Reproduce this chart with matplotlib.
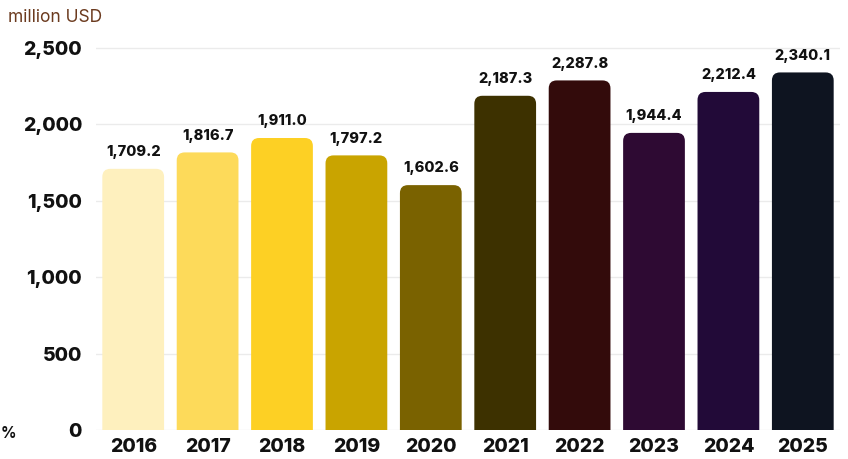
import matplotlib
matplotlib.use("Agg")
import matplotlib.pyplot as plt
from matplotlib.patches import FancyBboxPatch

years = ["2016", "2017", "2018", "2019", "2020", "2021", "2022", "2023", "2024", "2025"]
values = [1709.2, 1816.7, 1911.0, 1797.2, 1602.6, 2187.3, 2287.8, 1944.4, 2212.4, 2340.1]
colors = ["#FEF0BE", "#FDDA5A", "#FDD024", "#C9A400", "#7A6200",
          "#3D3100", "#330B0B", "#2E0A33", "#220A38", "#0E1420"]
yticks = [0, 500, 1000, 1500, 2000, 2500]
ytick_labels = ["0", "500", "1,000", "1,500", "2,000", "2,500"]

plt.rcParams['font.family'] = ['Inter', 'DejaVu Sans']

fig = plt.figure(figsize=(8.48, 4.59), dpi=100)
W, H = 848, 459
x0, x1 = 96, 840
y0, ytop = 430, 38
ax = fig.add_axes([x0 / W, 1 - y0 / H, (x1 - x0) / W, (y0 - ytop) / H])
ymax = 2500 * (y0 - ytop) / (430 - 48)
ax.set_xlim(-0.5, len(years) - 0.5)
ax.set_ylim(0, ymax)

xs = list(range(len(years)))
bars = ax.bar(xs, values, width=0.83, color=colors, zorder=2)

# replace with rounded-top bars
px_per_x = (x1 - x0) / len(years)
px_per_y = (y0 - ytop) / ymax
r_px = 8
aspect = px_per_x / px_per_y
for b, c in zip(bars, colors):
    bx, by = b.get_x(), b.get_y()
    bw, bh = b.get_width(), b.get_height()
    b.set_visible(False)
    ext = r_px / px_per_y * 1.5
    p = FancyBboxPatch((bx, by - ext), bw, bh + ext,
                       boxstyle=f"round,pad=0,rounding_size={r_px / px_per_x}",
                       mutation_aspect=aspect, facecolor=c, edgecolor="none",
                       zorder=2, clip_on=True)
    ax.add_patch(p)

for x, v in zip(xs, values):
    ax.annotate(f"{v:,.1f}", (x, v), xytext=(0, 7), textcoords="offset points",
                ha="center", va="bottom", fontsize=10.5, fontweight=800, color="#111111")

ax.set_yticks(yticks)
ax.set_yticklabels(ytick_labels)
ax.set_xticks(xs)
ax.set_xticklabels(years)
ax.tick_params(axis="both", length=0, labelsize=14, labelcolor="#111111")
ax.tick_params(axis="y", pad=10)
ax.tick_params(axis="x", pad=6)
for lab in ax.get_xticklabels() + ax.get_yticklabels():
    lab.set_fontweight(800)
ax.grid(axis="y", color="#EBEBEB", linewidth=1, zorder=0)
ax.set_axisbelow(True)
for s in ax.spines.values():
    s.set_visible(False)

fig.text(8 / W, 1 - 18 / H, "million USD", fontsize=12.5, color="#6B3A1E", va="center", ha="left")
fig.text(1 / W, 1 - 434 / H, "%", fontsize=11, color="#111111", fontweight="bold", va="center", ha="left")

fig.savefig("out.png", dpi=100)
